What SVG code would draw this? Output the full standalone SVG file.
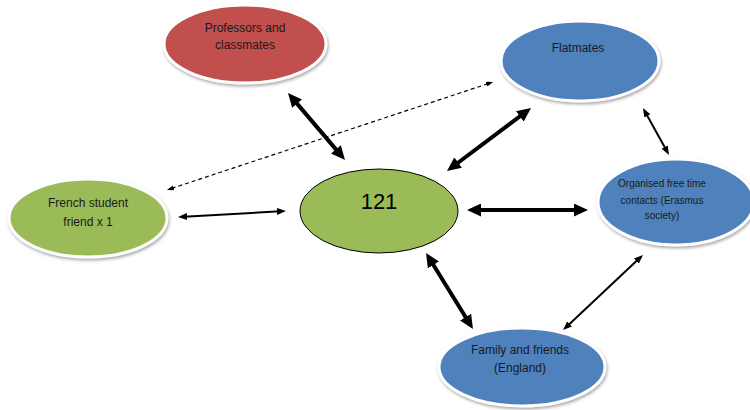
<svg xmlns="http://www.w3.org/2000/svg" width="750" height="410" viewBox="0 0 750 410">
<style>
.node{stroke:#ffffff;stroke-width:3;filter:url(#sh)}
.red{fill:#C0504D}
.blue{fill:#4F81BD}
.green{fill:#9BBB59}
.center{fill:#9BBB59;stroke:#000;stroke-width:1}
text{font-family:"Liberation Sans",Arial,sans-serif;font-size:12px;fill:#1a1a1a;text-anchor:middle}
.big{font-size:22px;fill:#000}
.small{font-size:10px}
.thick{stroke:#000;stroke-width:4;fill:none;marker-start:url(#hb);marker-end:url(#hb)}
.thin{stroke:#000;stroke-width:2;fill:none;marker-start:url(#hs);marker-end:url(#hs)}
.dash{stroke:#000;stroke-width:1.2;fill:none;stroke-dasharray:4 3;marker-start:url(#hd);marker-end:url(#hd)}
</style>
<defs>
<filter id="sh" x="-10%" y="-10%" width="125%" height="130%">
<feDropShadow dx="1" dy="2" stdDeviation="1.5" flood-color="#777" flood-opacity="0.6"/>
</filter>
<marker id="hb" markerUnits="userSpaceOnUse" viewBox="0 0 14 13" markerWidth="14" markerHeight="13" refX="4" refY="6.5" orient="auto-start-reverse"><path d="M0,0 L14,6.5 L0,13 z" fill="#000"/></marker>
<marker id="hs" markerUnits="userSpaceOnUse" viewBox="0 0 9 7" markerWidth="9" markerHeight="7" refX="3" refY="3.5" orient="auto-start-reverse"><path d="M0,0 L9,3.5 L0,7 z" fill="#000"/></marker>
<marker id="hd" markerUnits="userSpaceOnUse" viewBox="0 0 7 5" markerWidth="7" markerHeight="5" refX="2" refY="2.5" orient="auto-start-reverse"><path d="M0,0 L7,2.5 L0,5 z" fill="#000"/></marker>
</defs>
<rect width="750" height="410" fill="#fff"/>
<g id="connectors">
<line class="dash" x1="171.7" y1="188.4" x2="488.3" y2="83.6"/>
<line class="thick" x1="294.5" y1="100.6" x2="338.5" y2="152.4"/>
<line class="thick" x1="455" y1="165" x2="523" y2="114"/>
<line class="thick" x1="477" y1="210" x2="578" y2="210"/>
<line class="thick" x1="431.3" y1="261.5" x2="467.7" y2="320.5"/>
<line class="thin" x1="184" y1="216.7" x2="280" y2="211.3"/>
<line class="thin" x1="645.9" y1="113.3" x2="666.1" y2="149.7"/>
<line class="thin" x1="638.6" y1="259.1" x2="567.4" y2="325.9"/>
</g>
<g id="professors">
<ellipse class="node red" cx="245" cy="44" rx="81" ry="39"/>
<text x="245" y="32">Professors and</text>
<text x="245" y="49">classmates</text>
</g>
<g id="flatmates">
<ellipse class="node blue" cx="580" cy="61" rx="79" ry="40"/>
<text x="578" y="52">Flatmates</text>
</g>
<g id="french">
<ellipse class="node green" cx="88" cy="218" rx="79" ry="39"/>
<text x="88" y="207">French student</text>
<text x="88" y="226">friend x 1</text>
</g>
<g id="n121">
<ellipse class="center" cx="379" cy="211" rx="79" ry="42"/>
<text class="big" x="379" y="209">121</text>
</g>
<g id="organised">
<ellipse class="node blue" cx="676" cy="202" rx="78" ry="43"/>
<text class="small" x="662" y="187">Organised free time</text>
<text class="small" x="662" y="204">contacts (Erasmus</text>
<text class="small" x="662" y="219">society)</text>
</g>
<g id="family">
<ellipse class="node blue" cx="522" cy="367" rx="83" ry="39"/>
<text x="520" y="354">Family and friends</text>
<text x="520" y="372">(England)</text>
</g>
</svg>
